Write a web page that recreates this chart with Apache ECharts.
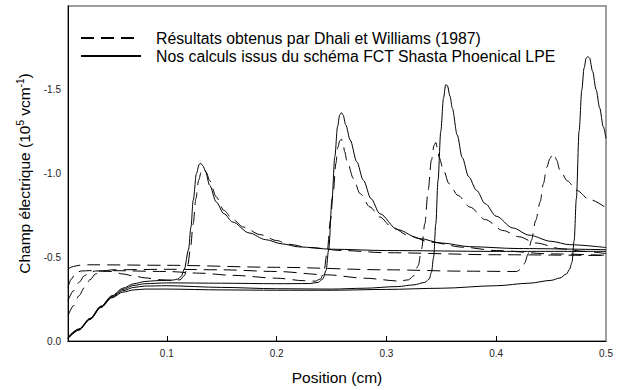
<!DOCTYPE html>
<html>
<head>
<meta charset="utf-8">
<script src="https://cdn.jsdelivr.net/npm/echarts@6/dist/echarts.min.js"></script>
<style>html,body{margin:0;padding:0;background:#fff}#c{width:622px;height:390px}</style>
</head>
<body>
<div id="c"></div>
<script>
// ---- data (position in cm, field in 1e5 V/cm) ----
const nameDhali = 'Résultats obtenus par Dhali et Williams (1987)';
const nameFCT = 'Nos calculs issus du schéma FCT Shasta Phoenical LPE';
const xTickValues = [0.1, 0.2, 0.3, 0.4];
const xLabelValues = [0.1, 0.2, 0.3, 0.4, 0.5];

const fct1 = [[0.01,-0.025],[0.02,-0.072],[0.03,-0.135],[0.04,-0.208],[0.05,-0.27],[0.06,-0.315],[0.07,-0.342],[0.08,-0.355],[0.09,-0.36],[0.1,-0.362],[0.106,-0.364],[0.11,-0.37],[0.113,-0.385],[0.116,-0.43],[0.1197,-0.543],[0.122,-0.68],[0.124,-0.84],[0.127,-1.0],[0.1295,-1.055],[0.131,-1.06],[0.133,-1.045],[0.135,-1.017],[0.139,-0.93],[0.145,-0.83],[0.152,-0.76],[0.16,-0.71],[0.175,-0.645],[0.19,-0.605],[0.205,-0.58],[0.22,-0.562],[0.25,-0.548],[0.3,-0.54],[0.4,-0.535],[0.5,-0.535]];
const fct2 = [[0.01,-0.02],[0.02,-0.07],[0.03,-0.133],[0.04,-0.205],[0.05,-0.267],[0.06,-0.308],[0.07,-0.332],[0.08,-0.342],[0.1,-0.347],[0.15,-0.345],[0.2,-0.342],[0.23,-0.343],[0.238,-0.35],[0.242,-0.37],[0.245,-0.42],[0.2475,-0.55],[0.2505,-0.85],[0.253,-1.1],[0.2555,-1.28],[0.2575,-1.35],[0.259,-1.363],[0.2605,-1.35],[0.263,-1.29],[0.267,-1.2],[0.273,-1.07],[0.279,-0.96],[0.286,-0.85],[0.294,-0.76],[0.31,-0.665],[0.33,-0.612],[0.35,-0.585],[0.376,-0.563],[0.42,-0.552],[0.5,-0.545]];
const fct3 = [[0.01,-0.017],[0.02,-0.068],[0.03,-0.13],[0.04,-0.202],[0.05,-0.262],[0.06,-0.3],[0.07,-0.32],[0.08,-0.328],[0.1,-0.33],[0.15,-0.32],[0.2,-0.312],[0.25,-0.31],[0.28,-0.315],[0.31,-0.325],[0.325,-0.335],[0.335,-0.35],[0.339,-0.37],[0.341,-0.41],[0.343,-0.5],[0.345,-0.7],[0.347,-0.958],[0.3495,-1.25],[0.352,-1.45],[0.354,-1.53],[0.3555,-1.525],[0.358,-1.46],[0.36,-1.39],[0.3645,-1.23],[0.369,-1.096],[0.375,-0.98],[0.382,-0.9],[0.39,-0.82],[0.4,-0.745],[0.415,-0.675],[0.43,-0.632],[0.45,-0.595],[0.467,-0.575],[0.5,-0.558]];
const fct4 = [[0.01,-0.014],[0.02,-0.065],[0.03,-0.128],[0.04,-0.2],[0.05,-0.258],[0.06,-0.292],[0.07,-0.305],[0.08,-0.31],[0.1,-0.31],[0.15,-0.305],[0.2,-0.303],[0.25,-0.303],[0.3,-0.308],[0.35,-0.315],[0.4,-0.33],[0.43,-0.345],[0.45,-0.362],[0.458,-0.376],[0.464,-0.4],[0.467,-0.43],[0.469,-0.47],[0.471,-0.6],[0.473,-0.85],[0.4755,-1.254],[0.478,-1.5],[0.48,-1.629],[0.482,-1.69],[0.4835,-1.698],[0.485,-1.69],[0.4878,-1.61],[0.491,-1.5],[0.4943,-1.39],[0.4975,-1.28],[0.5,-1.21]];

const dhali1 = [[0.01,-0.32],[0.013,-0.37],[0.017,-0.405],[0.022,-0.418],[0.03,-0.42],[0.05,-0.415],[0.06,-0.4],[0.07,-0.388],[0.08,-0.377],[0.094,-0.366],[0.105,-0.362],[0.112,-0.365],[0.116,-0.39],[0.119,-0.45],[0.1215,-0.55],[0.124,-0.7],[0.1265,-0.85],[0.129,-0.96],[0.1315,-1.015],[0.134,-1.027],[0.136,-1.005],[0.139,-0.958],[0.145,-0.86],[0.152,-0.78],[0.16,-0.725],[0.17,-0.68],[0.185,-0.635],[0.2,-0.6],[0.21,-0.578],[0.23,-0.558],[0.26,-0.54],[0.3,-0.527],[0.4,-0.515],[0.5,-0.51]];
const dhali2 = [[0.01,-0.24],[0.015,-0.3],[0.02,-0.35],[0.025,-0.39],[0.03,-0.41],[0.035,-0.418],[0.05,-0.42],[0.1,-0.415],[0.13,-0.405],[0.16,-0.392],[0.2,-0.375],[0.225,-0.36],[0.235,-0.357],[0.24,-0.37],[0.243,-0.41],[0.246,-0.53],[0.249,-0.72],[0.2515,-0.88],[0.254,-1.06],[0.2557,-1.155],[0.2575,-1.195],[0.259,-1.205],[0.2605,-1.18],[0.262,-1.13],[0.264,-1.077],[0.27,-0.97],[0.276,-0.88],[0.285,-0.8],[0.294,-0.74],[0.305,-0.68],[0.32,-0.63],[0.34,-0.59],[0.37,-0.56],[0.4,-0.54],[0.45,-0.52],[0.5,-0.512]];
const dhali3 = [[0.01,-0.15],[0.015,-0.21],[0.02,-0.27],[0.025,-0.32],[0.03,-0.365],[0.035,-0.4],[0.04,-0.415],[0.05,-0.425],[0.1,-0.428],[0.15,-0.425],[0.2,-0.415],[0.246,-0.395],[0.28,-0.375],[0.312,-0.358],[0.32,-0.365],[0.325,-0.39],[0.329,-0.45],[0.332,-0.55],[0.335,-0.7],[0.338,-0.9],[0.341,-1.08],[0.3435,-1.17],[0.345,-1.185],[0.3465,-1.15],[0.348,-1.096],[0.352,-1.02],[0.357,-0.94],[0.365,-0.87],[0.376,-0.8],[0.39,-0.725],[0.406,-0.66],[0.421,-0.622],[0.436,-0.585],[0.46,-0.55],[0.48,-0.535],[0.5,-0.522]];
const dhali4 = [[0.01,-0.43],[0.015,-0.445],[0.02,-0.452],[0.03,-0.455],[0.1,-0.452],[0.2,-0.44],[0.3,-0.425],[0.37,-0.417],[0.4185,-0.415],[0.423,-0.43],[0.426,-0.466],[0.429,-0.52],[0.432,-0.6],[0.436,-0.72],[0.44,-0.83],[0.443,-0.94],[0.446,-1.037],[0.449,-1.09],[0.451,-1.11],[0.453,-1.116],[0.455,-1.08],[0.458,-1.02],[0.465,-0.955],[0.473,-0.9],[0.485,-0.845],[0.5,-0.795]];

const fctSeries = [fct1, fct2, fct3, fct4];
const dhaliSeries = [dhali1, dhali2, dhali3, dhali4];

const FONT = '"Liberation Sans", Arial, Helvetica, sans-serif';
const chart = echarts.init(document.getElementById('c'), null, {renderer: 'svg'});

function mk(name, data, dashed) {
  return {
    name: name, type: 'line', data: data,
    symbol: 'none', showSymbol: false,
    smooth: 0.3, smoothMonotone: 'x',
    lineStyle: {color: '#000', width: 1, type: dashed ? [13, 7] : 'solid'},
    itemStyle: {color: '#000'},
    emphasis: {disabled: true}, silent: true, animation: false
  };
}
const series = [];
dhaliSeries.forEach(d => series.push(mk(nameDhali, d, true)));
fctSeries.forEach(d => series.push(mk(nameFCT, d, false)));

chart.setOption({
  animation: false,
  textStyle: {fontFamily: FONT},
  grid: {left: 68, right: 16, top: 6, bottom: 48, show: true, borderColor: '#808080', borderWidth: 1.5, backgroundColor: 'transparent'},
  legend: {
    data: [nameDhali, nameFCT], orient: 'vertical', left: 75, top: 25,
    itemWidth: 60, itemHeight: 12, itemGap: 2,
    itemStyle: {opacity: 0, borderWidth: 0},
    textStyle: {fontSize: 15.8, color: '#000', fontFamily: FONT, padding: [0, 0, 0, 10]},
    selectedMode: false
  },
  xAxis: {
    type: 'value', min: 0.01, max: 0.5,
    axisLine: {show: true, lineStyle: {color: '#000', width: 1}},
    axisTick: {show: true, inside: true, length: 5, customValues: xTickValues, lineStyle: {color: '#000'}},
    axisLabel: {customValues: xLabelValues, formatter: v => v.toFixed(1), fontSize: 10, color: '#222', margin: 7, fontFamily: FONT},
    splitLine: {show: false},
    name: 'Position (cm)', nameLocation: 'middle', nameGap: 28,
    nameTextStyle: {fontSize: 15.5, color: '#000', fontFamily: FONT}
  },
  yAxis: {
    type: 'value', inverse: true, min: -2, max: 0, interval: 0.5,
    axisLine: {show: true, lineStyle: {color: '#000', width: 1}},
    axisTick: {show: false},
    axisLabel: {formatter: v => (Math.abs(v + 2) < 1e-9 ? '' : v.toFixed(1)), fontSize: 10, color: '#222', margin: 7, fontFamily: FONT},
    splitLine: {show: false},
    name: 'Champ électrique (10{sup|5} vcm{sup|-1})', nameLocation: 'middle', nameGap: 38,
    nameTextStyle: {
      fontSize: 15.5, color: '#000', fontFamily: FONT, verticalAlign: 'middle',
      rich: {sup: {fontSize: 10, fontFamily: FONT, color: '#000', verticalAlign: 'top', lineHeight: 18}}
    }
  },
  series: series
});
</script>
</body>
</html>
